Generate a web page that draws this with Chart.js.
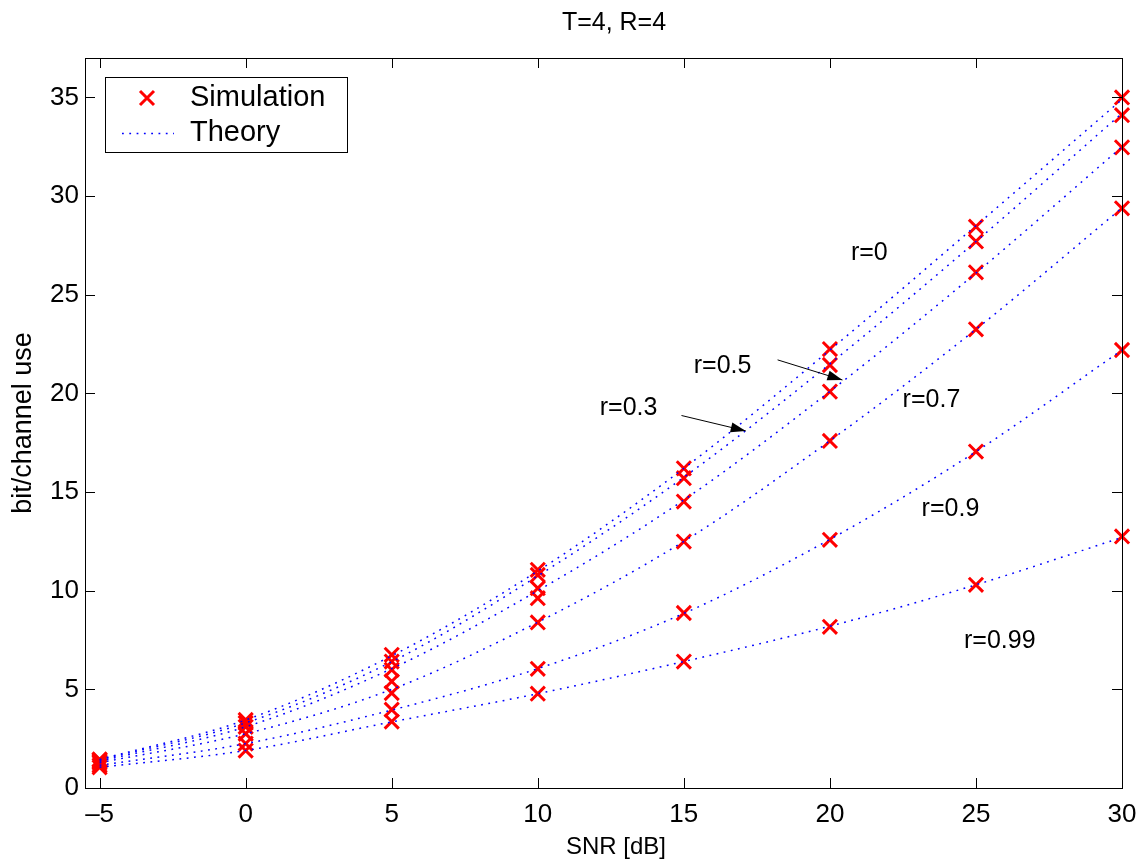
<!DOCTYPE html>
<html>
<head>
<meta charset="utf-8">
<script src="https://cdn.jsdelivr.net/npm/chart.js@4.4.1/dist/chart.umd.min.js"></script>
<style>
  html, body { margin: 0; padding: 0; background: #fff; }
</style>
</head>
<body>
<canvas id="chart" width="1148" height="867"></canvas>
<script>
// values
const snr = [-5, 0, 5, 10, 15, 20, 25, 30];
const xTicks = [-5, 0, 5, 10, 15, 20, 25, 30];
const xTickLabels = ["\u20135", "0", "5", "10", "15", "20", "25", "30"];
const yTicks = [0, 5, 10, 15, 20, 25, 30, 35];

const rNames = ["r=0", "r=0.3", "r=0.5", "r=0.7", "r=0.9", "r=0.99"];

const simR0   = [1.45, 3.45, 6.75, 11.06, 16.2, 22.25, 28.45, 35.0];
const simR03  = [1.42, 3.3, 6.41, 10.8, 15.7, 21.44, 27.7, 34.1];
const simR05  = [1.36, 3.1, 5.99, 10.13, 14.52, 20.09, 26.14, 32.47];
const simR07  = [1.28, 2.75, 4.81, 8.39, 12.49, 17.59, 23.25, 29.38];
const simR09  = [1.15, 2.25, 3.97, 6.04, 8.87, 12.58, 17.05, 22.2];
const simR099 = [1.05, 1.9, 3.37, 4.78, 6.41, 8.17, 10.3, 12.75];
const simExtra = [null, null, 5.4, 9.62, null, null, null, null];

const thR0   = [1.45, 3.45, 6.7, 11.0, 16.2, 22.2, 28.5, 34.9];
const thR03  = [1.42, 3.3, 6.4, 10.75, 15.75, 21.5, 27.7, 34.2];
const thR05  = [1.36, 3.1, 6.05, 10.0, 14.6, 20.1, 26.1, 32.5];
const thR07  = [1.28, 2.75, 5.0, 8.4, 12.5, 17.6, 23.25, 29.4];
const thR09  = [1.15, 2.25, 3.95, 6.05, 8.85, 12.6, 17.05, 22.2];
const thR099 = [1.05, 1.9, 3.35, 4.78, 6.41, 8.2, 10.3, 12.7];

const simSeries = [simR0, simR03, simR05, simR07, simR09, simR099, simExtra];
const theorySeries = [thR0, thR03, thR05, thR07, thR09, thR099];

// annotation text (left edge x, centre y in data units) and arrows
const notes = [
  { text: "r=0",    x: 20.72, y: 27.1 },
  { text: "r=0.5",  x: 15.34, y: 21.36 },
  { text: "r=0.3",  x: 12.12, y: 19.25 },
  { text: "r=0.7",  x: 22.49, y: 19.67 },
  { text: "r=0.9",  x: 23.14, y: 14.13 },
  { text: "r=0.99", x: 24.59, y: 7.43 },
];
const arrows = [
  { x0: 18.21, y0: 21.7, x1: 20.43, y1: 20.68 },
  { x0: 14.92, y0: 18.88, x1: 17.12, y1: 18.1 },
];

const FONT = "'Liberation Sans', Arial, Helvetica, sans-serif";
const RED = "#ff0000";
const BLUE = "#0000ff";

function toPoints(vals) {
  const pts = [];
  vals.forEach((v, i) => { if (v !== null) pts.push({ x: snr[i], y: v }); });
  return pts;
}

const datasets = [];
theorySeries.forEach((s, i) => {
  datasets.push({
    label: "Theory " + rNames[i],
    data: toPoints(s),
    showLine: true,
    borderColor: BLUE,
    borderWidth: 1.5,
    borderDash: [1.8, 5.5],
    pointRadius: 0,
    cubicInterpolationMode: "monotone",
    order: 0,
  });
});
simSeries.forEach((s, i) => {
  datasets.push({
    label: "Simulation " + i,
    data: toPoints(s),
    showLine: false,
    pointStyle: "crossRot",
    pointRadius: 10,
    pointBorderWidth: 3,
    borderColor: RED,
    backgroundColor: RED,
    clip: false,
    order: 1,
  });
});

function arrowHead(ctx, x0, y0, x1, y1) {
  const a = Math.atan2(y1 - y0, x1 - x0);
  const len = 15, hw = 5;
  ctx.beginPath();
  ctx.moveTo(x1, y1);
  ctx.lineTo(x1 - len * Math.cos(a) + hw * Math.sin(a), y1 - len * Math.sin(a) - hw * Math.cos(a));
  ctx.lineTo(x1 - len * Math.cos(a) - hw * Math.sin(a), y1 - len * Math.sin(a) + hw * Math.cos(a));
  ctx.closePath();
  ctx.fill();
}

const matlabFrame = {
  id: "matlabFrame",
  afterDraw(chart) {
    const { ctx, chartArea: ca } = chart;
    const xs = chart.scales.x, ys = chart.scales.y;
    ctx.save();

    // box and inward ticks on all sides
    ctx.strokeStyle = "#000";
    ctx.lineWidth = 1;
    ctx.strokeRect(Math.round(ca.left) + 0.5, Math.round(ca.top) + 0.5,
      Math.round(ca.right - ca.left), Math.round(ca.bottom - ca.top));
    const tl = 10;
    ctx.beginPath();
    xTicks.forEach(v => {
      const px = Math.round(xs.getPixelForValue(v)) + 0.5;
      ctx.moveTo(px, ca.bottom); ctx.lineTo(px, ca.bottom - tl);
      ctx.moveTo(px, ca.top); ctx.lineTo(px, ca.top + tl);
    });
    yTicks.forEach(v => {
      const py = Math.round(ys.getPixelForValue(v)) + 0.5;
      ctx.moveTo(ca.left, py); ctx.lineTo(ca.left + tl, py);
      ctx.moveTo(ca.right, py); ctx.lineTo(ca.right - tl, py);
    });
    ctx.stroke();

    // title and x label (placed slightly right of centre, as in the figure)
    ctx.fillStyle = "#000";
    ctx.textAlign = "center";
    ctx.textBaseline = "middle";
    ctx.font = "25px " + FONT;
    ctx.fillText("T=4, R=4", 614, 23);
    ctx.font = "24px " + FONT;
    ctx.fillText("SNR [dB]", 616, 847);

    // annotations
    ctx.font = "25px " + FONT;
    ctx.textAlign = "left";
    notes.forEach(n => {
      ctx.fillText(n.text, xs.getPixelForValue(n.x), ys.getPixelForValue(n.y));
    });
    arrows.forEach(a => {
      const x0 = xs.getPixelForValue(a.x0), y0 = ys.getPixelForValue(a.y0);
      const x1 = xs.getPixelForValue(a.x1), y1 = ys.getPixelForValue(a.y1);
      ctx.beginPath();
      ctx.moveTo(x0, y0); ctx.lineTo(x1, y1);
      ctx.stroke();
      arrowHead(ctx, x0, y0, x1, y1);
    });

    // legend box in the upper left corner
    const lx = 105.5, ly = 77.5, lw = 242, lh = 75;
    ctx.fillStyle = "#fff";
    ctx.fillRect(lx, ly, lw, lh);
    ctx.strokeStyle = "#000";
    ctx.strokeRect(lx, ly, lw, lh);

    // simulation marker
    ctx.strokeStyle = RED;
    ctx.lineWidth = 3;
    const mx = 147, my = 98, d = 7;
    ctx.beginPath();
    ctx.moveTo(mx - d, my - d); ctx.lineTo(mx + d, my + d);
    ctx.moveTo(mx - d, my + d); ctx.lineTo(mx + d, my - d);
    ctx.stroke();

    // theory line
    ctx.strokeStyle = BLUE;
    ctx.lineWidth = 1.5;
    ctx.setLineDash([1.8, 5.5]);
    ctx.beginPath();
    ctx.moveTo(122, 133.5); ctx.lineTo(174, 133.5);
    ctx.stroke();
    ctx.setLineDash([]);

    ctx.fillStyle = "#000";
    ctx.font = "29px " + FONT;
    ctx.fillText("Simulation", 190, 98);
    ctx.fillText("Theory", 190, 133);
    ctx.restore();
  }
};

new Chart(document.getElementById("chart"), {
  type: "scatter",
  data: { datasets },
  options: {
    responsive: false,
    animation: false,
    layout: { padding: { left: 0, right: 26, top: 58, bottom: 0 } },
    plugins: {
      legend: { display: false },
      tooltip: { enabled: false },
      title: { display: false },
    },
    scales: {
      x: {
        type: "linear",
        min: -5.5,
        max: 30,
        afterFit: s => { s.height = 79; },
        afterBuildTicks: s => { s.ticks = xTicks.map(v => ({ value: v })); },
        grid: { display: false, drawTicks: false },
        border: { display: false },
        ticks: {
          color: "#000",
          padding: 11,
          font: { family: FONT, size: 26 },
          callback: v => xTickLabels[xTicks.indexOf(v)],
        },
      },
      y: {
        type: "linear",
        min: 0,
        max: 37,
        afterFit: s => { s.width = 85; },
        afterBuildTicks: s => { s.ticks = yTicks.map(v => ({ value: v })); },
        grid: { display: false, drawTicks: false },
        border: { display: false },
        ticks: {
          color: "#000",
          padding: 6,
          font: { family: FONT, size: 26 },
        },
        title: {
          display: true,
          text: "bit/channel use",
          color: "#000",
          font: { family: FONT, size: 27 },
          padding: { top: 7, bottom: 0 },
        },
      },
    },
  },
  plugins: [matlabFrame],
});
</script>
</body>
</html>
